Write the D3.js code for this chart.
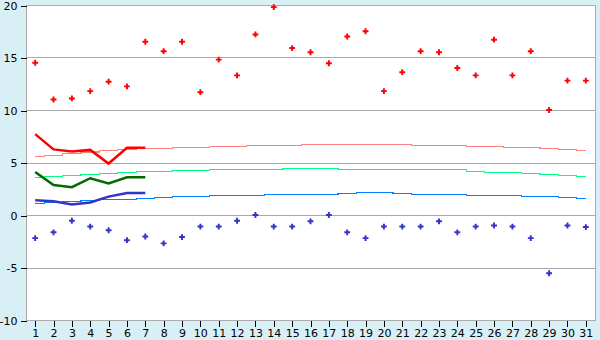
<!DOCTYPE html>
<html>
<head>
<meta charset="utf-8">
<script src="https://cdn.jsdelivr.net/npm/d3@7"></script>
<style>
  body { margin: 0; background: #d9eff6; }
  svg { display: block; }
  text { font-family: "DejaVu Sans", sans-serif; font-size: 11px; fill: #000; }
</style>
</head>
<body>
<svg id="chart" width="600" height="340"></svg>
<script>
const days = d3.range(1, 32);
const yTicks = [-10, -5, 0, 5, 10, 15, 20];

// daily observed extremes
const maxTemp = [14.5, 11.0, 11.1, 11.8, 12.7, 12.25, 16.5, 15.6, 16.5, 11.7, 14.8, 13.3, 17.2, 19.8, 15.9, 15.5,
  14.45, 17.0, 17.5, 11.8, 13.6, 15.6, 15.5, 14.0, 13.3, 16.7, 13.3, 15.6, 10.0, 12.8, 12.8];
const minTemp = [-2.2, -1.65, -0.55, -1.1, -1.45, -2.4, -2.05, -2.7, -2.1, -1.1, -1.1, -0.55, 0.0, -1.1, -1.1, -0.6,
  0.0, -1.65, -2.2, -1.1, -1.1, -1.1, -0.6, -1.65, -1.1, -1.0, -1.1, -2.2, -5.55, -1.0, -1.15];

// observed running averages (first week only)
const obsMax = [7.7, 6.25, 6.05, 6.2, 4.9, 6.4, 6.4];
const obsMean = [4.1, 2.85, 2.65, 3.5, 3.0, 3.6, 3.6];
const obsMin = [1.4, 1.3, 1.0, 1.2, 1.75, 2.1, 2.1];

// climate normals
const normMax = [5.6, 5.7, 5.85, 6.0, 6.15, 6.25, 6.3, 6.3, 6.45, 6.45, 6.55, 6.55, 6.65, 6.65, 6.65, 6.75,
  6.75, 6.75, 6.75, 6.75, 6.75, 6.65, 6.65, 6.65, 6.55, 6.55, 6.45, 6.45, 6.35, 6.25, 6.15];
const normMean = [3.6, 3.65, 3.75, 3.85, 3.95, 4.05, 4.15, 4.15, 4.25, 4.25, 4.35, 4.35, 4.35, 4.35, 4.45, 4.45,
  4.45, 4.35, 4.35, 4.35, 4.35, 4.35, 4.35, 4.35, 4.15, 4.05, 4.05, 3.95, 3.85, 3.75, 3.65];
const normMin = [1.1, 1.2, 1.3, 1.35, 1.45, 1.5, 1.6, 1.65, 1.75, 1.75, 1.85, 1.85, 1.85, 1.95, 1.95, 1.95,
  1.95, 2.05, 2.15, 2.15, 2.05, 1.95, 1.95, 1.95, 1.85, 1.85, 1.85, 1.75, 1.75, 1.65, 1.55];

const svg = d3.select("#chart");
const plotL = 26, plotR = 595, plotT = 5, plotB = 320;

const x = d3.scaleBand().domain(days).range([plotL, plotR]);
const cx = d => x(d) + x.bandwidth() / 2;
const y = d3.scaleLinear().domain([-10, 20]).range([plotB, plotT]);

// plot background
svg.append("rect")
  .attr("x", plotL).attr("y", plotT)
  .attr("width", plotR - plotL).attr("height", plotB - plotT)
  .attr("fill", "#fff");

// grid lines
svg.append("g")
  .attr("shape-rendering", "crispEdges")
  .selectAll("line")
  .data(yTicks)
  .enter().append("line")
  .attr("x1", plotL).attr("x2", plotR)
  .attr("y1", d => Math.round(y(d)) + 0.5).attr("y2", d => Math.round(y(d)) + 0.5)
  .attr("stroke", "#aaa");

// frame
svg.append("path")
  .attr("d", `M${plotL + 0.5},${plotT + 0.5}H${plotR + 0.5}V${plotB + 0.5}H${plotL + 0.5}Z`)
  .attr("fill", "none")
  .attr("stroke", "#aaa")
  .attr("shape-rendering", "crispEdges");

// y axis
const yAxis = svg.append("g")
  .attr("transform", `translate(${plotL + 0.5},0.5)`)
  .call(d3.axisLeft(y).tickValues(yTicks).tickSize(6).tickPadding(3).tickFormat(d => String(d)));
yAxis.select(".domain").remove();
yAxis.selectAll(".tick line").attr("stroke", "#000").attr("shape-rendering", "crispEdges");

// x axis
const xAxis = svg.append("g")
  .attr("transform", `translate(0.5,${plotB + 0.5})`)
  .call(d3.axisBottom(x).tickSize(6).tickPadding(3));
xAxis.select(".domain").remove();
xAxis.selectAll(".tick line").attr("stroke", "#000").attr("shape-rendering", "crispEdges");
xAxis.selectAll("text").attr("dy", "0.66em");

// normals
const stepLine = d3.line()
  .x((d, i) => cx(days[i]))
  .y(d => y(d))
  .curve(d3.curveStep);

[[normMax, "#ff8080"], [normMean, "#00ff80"], [normMin, "#0080ff"]].forEach(([vals, col]) => {
  svg.append("path")
    .datum(vals)
    .attr("d", stepLine)
    .attr("fill", "none")
    .attr("stroke", col)
    .attr("stroke-width", 1.2)
    .attr("shape-rendering", "crispEdges");
});

// observed averages
const line = d3.line()
  .x((d, i) => cx(days[i]))
  .y(d => y(d));

[[obsMax, "#ff0000"], [obsMean, "#006a00"], [obsMin, "#3333cc"]].forEach(([vals, col]) => {
  svg.append("path")
    .datum(vals)
    .attr("d", line)
    .attr("fill", "none")
    .attr("stroke", col)
    .attr("stroke-width", 2.5);
});

// daily points
const cross = d3.symbol().type(d3.symbolCross).size(19);

svg.append("g")
  .selectAll("path")
  .data(maxTemp)
  .enter().append("path")
  .attr("d", cross)
  .attr("transform", (d, i) => `translate(${cx(days[i])},${y(d)})`)
  .attr("fill", "#ff0000");

svg.append("g")
  .selectAll("path")
  .data(minTemp)
  .enter().append("path")
  .attr("d", cross)
  .attr("transform", (d, i) => `translate(${cx(days[i])},${y(d)})`)
  .attr("fill", "#3333cc");
</script>
</body>
</html>
